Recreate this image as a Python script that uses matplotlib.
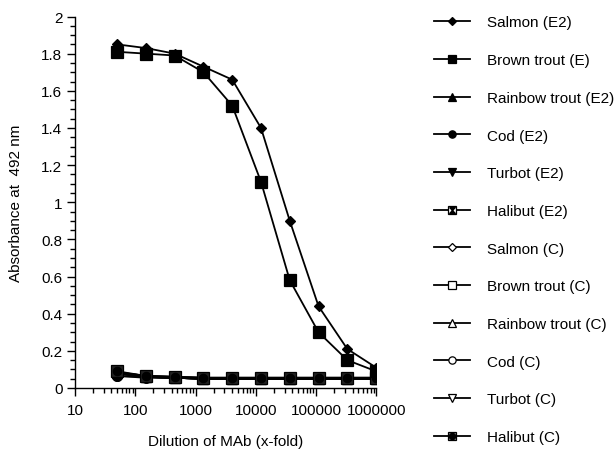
import matplotlib
matplotlib.use("Agg")
import matplotlib.pyplot as plt
from matplotlib.lines import Line2D
import numpy as np

plt.rcParams['font.family'] = ['Liberation Sans', 'DejaVu Sans']

dilution = [50, 150, 450, 1350, 4050, 12150, 36450, 109350, 328050, 984150]

salmon_e2 = [1.85, 1.83, 1.80, 1.73, 1.66, 1.40, 0.90, 0.44, 0.21, 0.11]
brown_e = [1.81, 1.80, 1.79, 1.70, 1.52, 1.11, 0.58, 0.30, 0.15, 0.09]
rainbow_e2 = [0.08, 0.06, 0.055, 0.05, 0.05, 0.05, 0.05, 0.05, 0.05, 0.05]
cod_e2 = [0.065, 0.055, 0.055, 0.05, 0.05, 0.05, 0.05, 0.05, 0.05, 0.05]
turbot_e2 = [0.08, 0.06, 0.055, 0.05, 0.05, 0.05, 0.05, 0.05, 0.05, 0.05]
halibut_e2 = [0.085, 0.065, 0.06, 0.055, 0.055, 0.055, 0.055, 0.055, 0.055, 0.055]
salmon_c = [0.08, 0.06, 0.055, 0.05, 0.05, 0.05, 0.05, 0.05, 0.05, 0.05]
brown_c = [0.085, 0.065, 0.06, 0.055, 0.055, 0.055, 0.055, 0.055, 0.055, 0.055]
rainbow_c = [0.08, 0.06, 0.055, 0.05, 0.05, 0.05, 0.05, 0.05, 0.05, 0.05]
cod_c = [0.065, 0.06, 0.055, 0.05, 0.05, 0.05, 0.05, 0.05, 0.05, 0.05]
turbot_c = [0.08, 0.06, 0.055, 0.05, 0.05, 0.05, 0.05, 0.05, 0.05, 0.05]
halibut_c = [0.09, 0.065, 0.06, 0.055, 0.055, 0.055, 0.055, 0.055, 0.055, 0.055]

labels = ["Salmon (E2)", "Brown trout (E)", "Rainbow trout (E2)", "Cod (E2)",
          "Turbot (E2)", "Halibut (E2)", "Salmon (C)", "Brown trout (C)",
          "Rainbow trout (C)", "Cod (C)", "Turbot (C)", "Halibut (C)"]
series = [salmon_e2, brown_e, rainbow_e2, cod_e2, turbot_e2, halibut_e2,
          salmon_c, brown_c, rainbow_c, cod_c, turbot_c, halibut_c]

hourglass = [(-1, 1), (1, 1), (-1, -1), (1, -1), (-1, 1)]

# style specs: list of (marker, face, size) layers
styles = [
    [('D', 'black', 5.5)],
    [('s', 'black', 8)],
    [('^', 'black', 7)],
    [('o', 'black', 7)],
    [('v', 'black', 7)],
    [('s', 'white', 7.5), (hourglass, 'black', 5.5)],
    [('D', 'white', 5.5)],
    [('s', 'white', 7.5)],
    [('^', 'white', 7)],
    [('o', 'white', 7)],
    [('v', 'white', 7)],
    [('s', '#888888', 8), ('o', 'black', 6)],
]

fig = plt.figure(figsize=(6.14, 4.52), dpi=100)
ax = fig.add_axes([75/614, 1 - 389/452, (376.5-75)/614, (389-17.5)/452])

# plot: draw controls first, then positives on top
order = [6, 7, 8, 9, 10, 2, 4, 5, 3, 11, 1, 0]
for i in order:
    ax.plot(dilution, series[i], color='black', lw=1.3, zorder=2)
    for j, (m, fc, ms) in enumerate(styles[i]):
        if i == 11 and j == 0:
            fc = '#222222'
        ax.plot(dilution, series[i], linestyle='none', marker=m, markerfacecolor=fc,
                markeredgecolor='black', markeredgewidth=0.9, markersize=ms, zorder=3)

ax.set_xscale('log')
ax.set_xlim(10, 1e6)
ax.set_ylim(0, 2)
ax.set_yticks(np.arange(0, 2.01, 0.2))
ax.set_yticklabels(['0', '0.2', '0.4', '0.6', '0.8', '1', '1.2', '1.4', '1.6', '1.8', '2'])
ax.set_yticks(np.arange(0, 2.01, 0.05), minor=True)
ax.set_xticks([10, 100, 1000, 10000, 100000, 1000000])
ax.set_xticklabels(['10', '100', '1000', '10000', '100000', '1000000'])
ax.xaxis.set_minor_locator(matplotlib.ticker.LogLocator(base=10, subs=np.arange(2, 10)))
ax.xaxis.set_minor_formatter(matplotlib.ticker.NullFormatter())
ax.tick_params(axis='both', which='major', direction='out', length=6, width=1.0,
               labelsize=11, colors='black', pad=3)
ax.tick_params(axis='both', which='minor', direction='out', length=3.5, width=1.0)
ax.tick_params(axis='x', which='major', pad=5)
for s in ['top', 'right']:
    ax.spines[s].set_visible(False)
for s in ['left', 'bottom']:
    ax.spines[s].set_linewidth(1.0)
ax.patch.set_alpha(0)

ax.set_xlabel('Dilution of MAb (x-fold)', fontsize=11, labelpad=12)
ax.set_ylabel('Absorbance at  492 nm', fontsize=11, labelpad=13)

handles = []
for i in range(12):
    layers = []
    for j, (m, fc, ms) in enumerate(styles[i]):
        layers.append(Line2D([], [], color='black', lw=1.3 if j == 0 else 0,
                             marker=m, markerfacecolor=fc, markeredgecolor='black',
                             markeredgewidth=0.9, markersize=ms * 0.75))
    handles.append(tuple(layers) if len(layers) > 1 else layers[0])

leg = fig.legend(handles, labels, loc='upper left',
                 bbox_to_anchor=(434/614, 1 - 16.5/452), bbox_transform=fig.transFigure,
                 frameon=False, fontsize=11, handlelength=2.35, handletextpad=1.15,
                 labelspacing=1.55, borderpad=0, borderaxespad=0)

fig.savefig('out.png', dpi=100)
